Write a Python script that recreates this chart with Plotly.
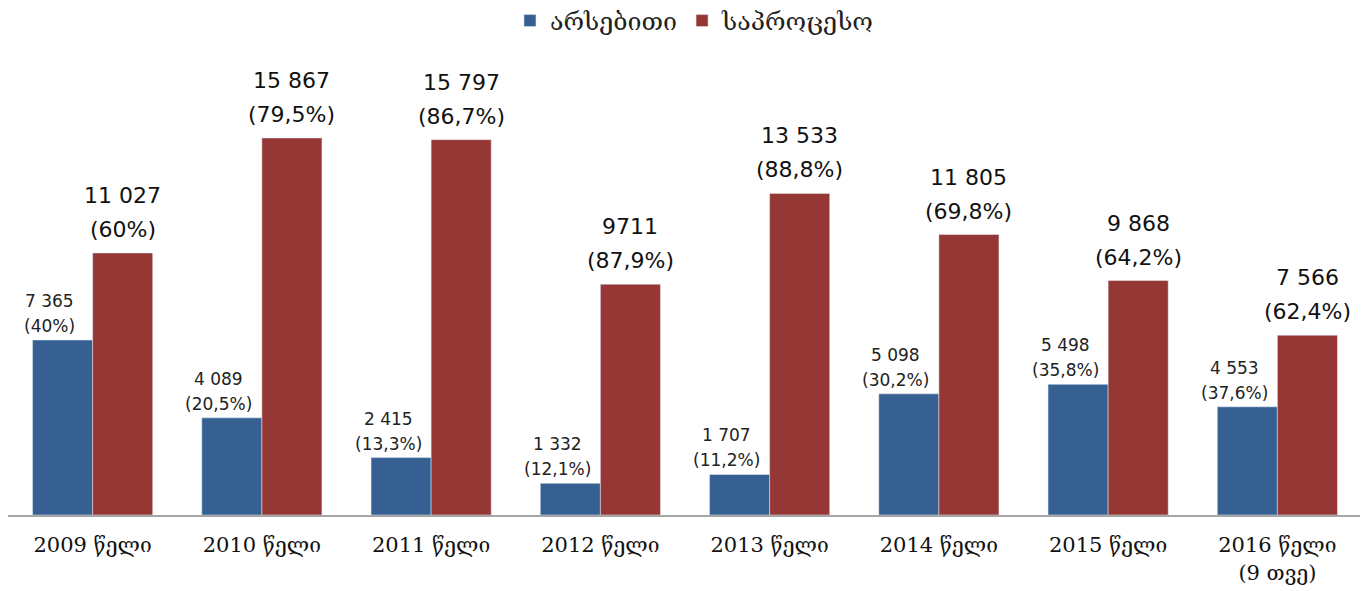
import plotly.graph_objects as go

categories = ["2009 წელი", "2010 წელი", "2011 წელი", "2012 წელი", "2013 წელი",
              "2014 წელი", "2015 წელი", "2016 წელი<br>(9 თვე)"]
essential = [7365, 4089, 2415, 1332, 1707, 5098, 5498, 4553]
procedural = [11027, 15867, 15797, 9711, 13533, 11805, 9868, 7566]
essential_values = ["7 365", "4 089", "2 415", "1 332", "1 707", "5 098", "5 498", "4 553"]
essential_shares = ["(40%)", "(20,5%)", "(13,3%)", "(12,1%)", "(11,2%)", "(30,2%)", "(35,8%)", "(37,6%)"]
procedural_values = ["11 027", "15 867", "15 797", "9711", "13 533", "11 805", "9 868", "7 566"]
procedural_shares = ["(60%)", "(79,5%)", "(86,7%)", "(87,9%)", "(88,8%)", "(69,8%)", "(64,2%)", "(62,4%)"]

BLUE = "#366092"
RED = "#953735"

fig = go.Figure()
fig.add_trace(go.Bar(name="არსებითი", x=categories, y=essential, marker_color=BLUE))
fig.add_trace(go.Bar(name="საპროცესო", x=categories, y=procedural, marker_color=RED))

annotations = []


def add_label(cat, v, text, xshift, yshift, size, color):
    annotations.append(dict(x=cat, y=v, xref="x", yref="y", text=text, showarrow=False,
                            xanchor="center", yanchor="bottom", xshift=xshift, yshift=yshift,
                            font=dict(family="DejaVu Sans", size=size, color=color)))


for cat, v, val, sh in zip(categories, essential, essential_values, essential_shares):
    add_label(cat, v, sh, -43, 2, 17, "#222222")
    add_label(cat, v, val, -43, 27, 17, "#222222")
for cat, v, val, sh in zip(categories, procedural, procedural_values, procedural_shares):
    add_label(cat, v, sh, 30, 9, 22, "#111111")
    add_label(cat, v, val, 30, 43, 22, "#111111")

fig.update_layout(
    width=1360, height=583,
    barmode="group", bargap=0.29, bargroupgap=0,
    plot_bgcolor="white", paper_bgcolor="white",
    margin=dict(l=0, r=6, t=37, b=76, autoexpand=False),
    showlegend=True,
    legend=dict(orientation="h", x=0.507, xanchor="center", y=0.978, yanchor="middle",
                yref="container",
                font=dict(family="DejaVu Serif", size=25, color="#222222"),
                traceorder="normal"),
    annotations=annotations,
)
fig.update_xaxes(showline=True, linecolor="#a6a6a6", linewidth=2, ticks="",
                 ticklabelstandoff=10,
                 tickfont=dict(family="DejaVu Serif", size=21, color="#111111"))
fig.update_yaxes(range=[0, 19780], visible=False, showgrid=False)

fig.write_html("out.html")
